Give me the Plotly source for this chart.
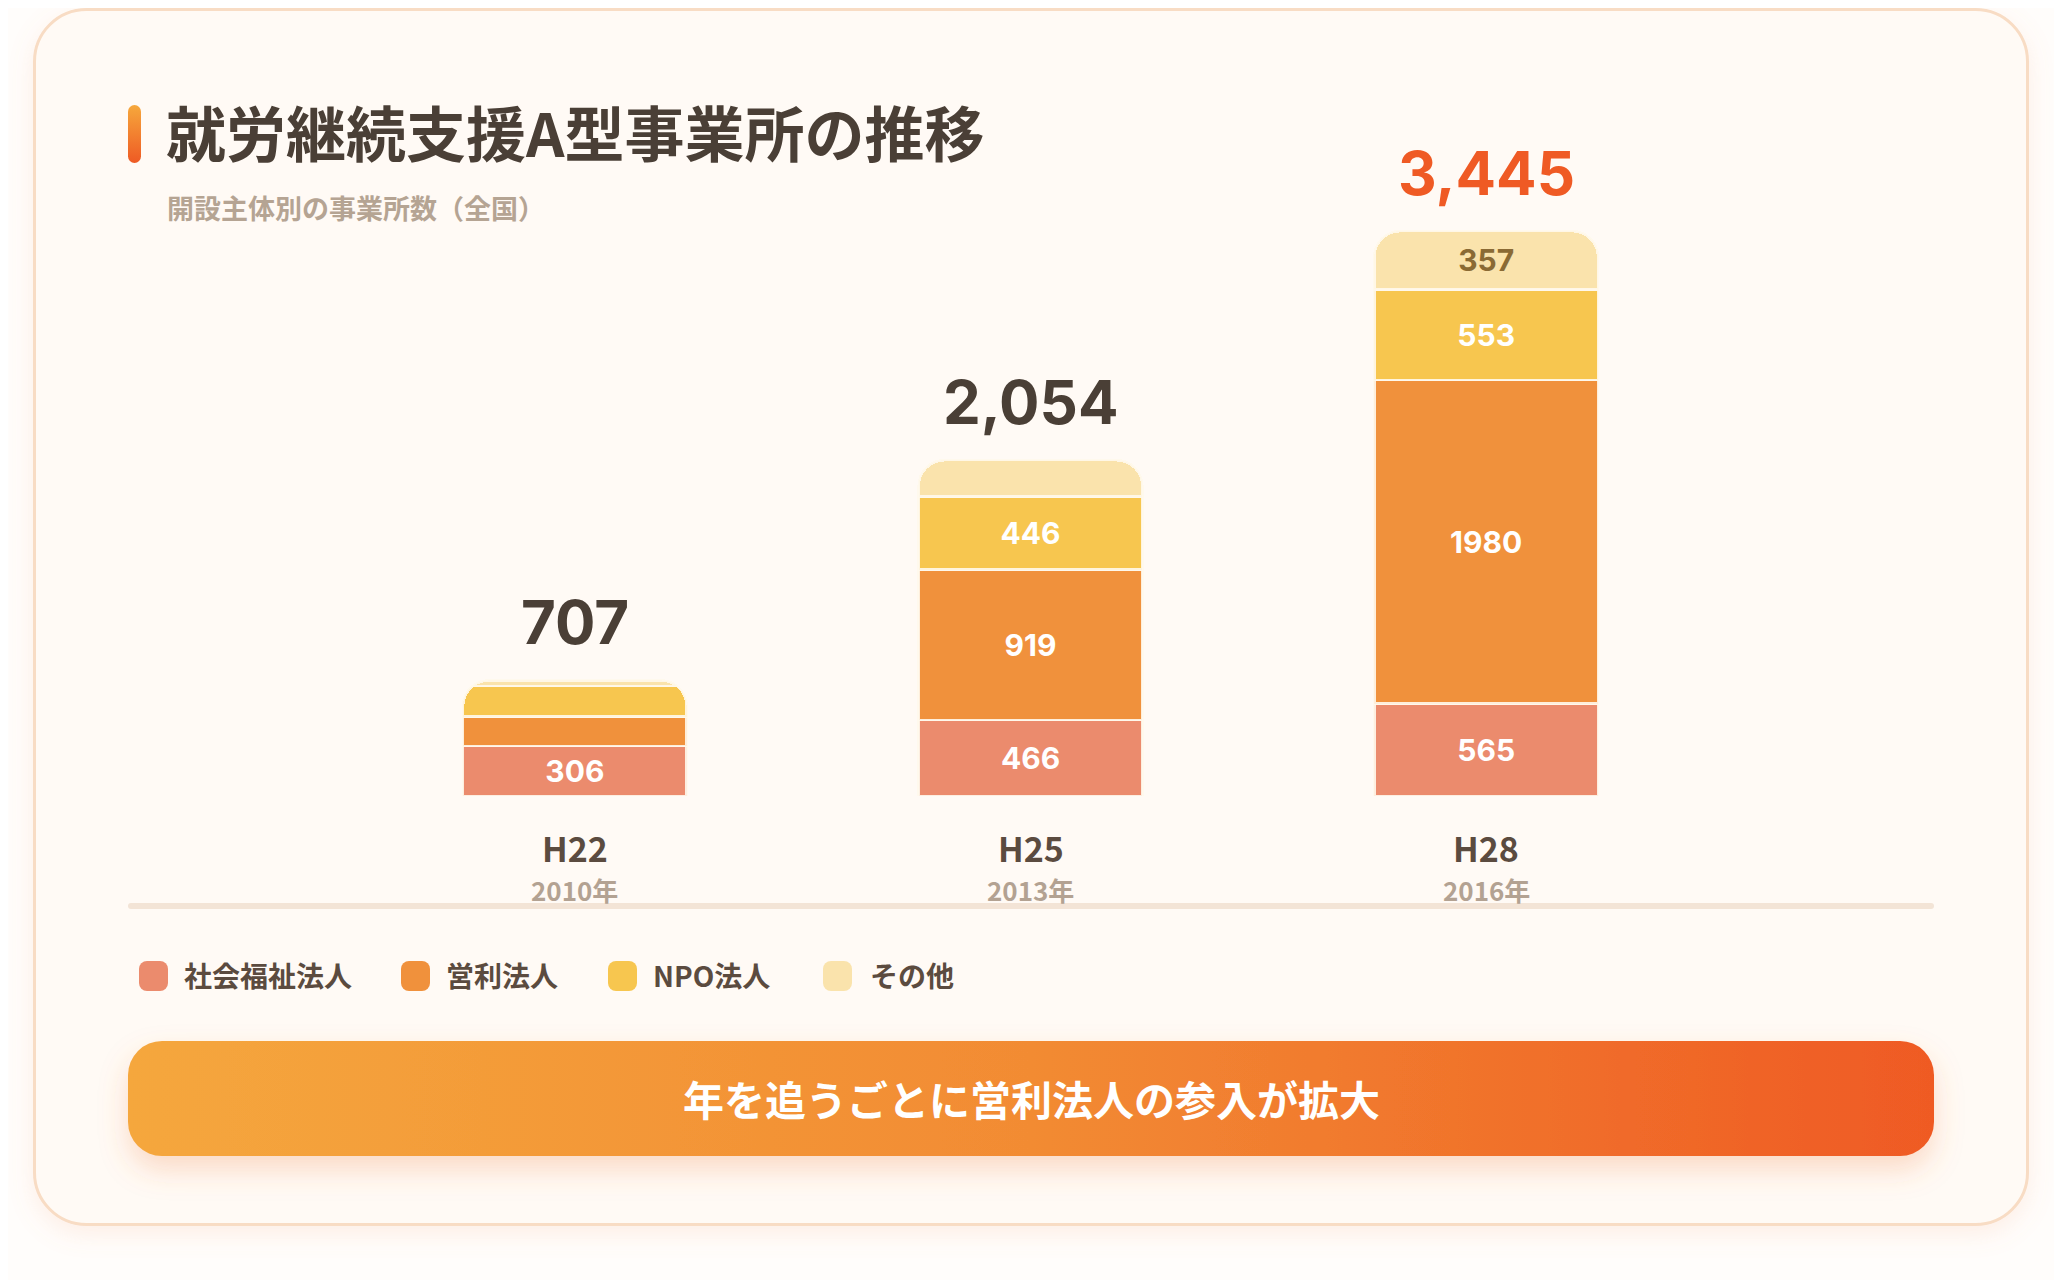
import base64
import plotly.graph_objects as go

# data
years = ["H22", "H25", "H28"]
year_ad = ["2010年", "2013年", "2016年"]
series = ["社会福祉法人", "営利法人", "NPO法人", "その他"]
shakai = [306, 466, 565]
eiri = [180, 919, 1980]
npo = [186, 446, 553]
sonota = [35, 223, 357]
totals = [707, 2054, 3445]
# H22 segments (except the first) and H25 "other" carry no printed value
show_label = [[True, True, True], [False, True, True], [False, True, True], [False, False, True]]

colors = ["#eb8b6d", "#f0913c", "#f7c64f", "#fae3ac"]
label_colors = ["#ffffff", "#ffffff", "#ffffff", "#8a6a34"]
total_colors = ["#4a3f36", "#4a3f36", "#ef5a24"]

JP = "Noto Sans CJK JP"
NUM = "Inter, Noto Sans CJK JP"
W, H = 2046, 1272


def px(x):
    return x / W


def py(y):
    return 1 - y / H


# background decoration: card, accent bar, baseline, banner, legend chips
legend_x = [131, 393, 600, 815]
legend_tx = [174, 436, 643, 860]
chips = "".join(
    f'<rect x="{x}" y="953" width="29" height="30" rx="8" fill="{c}"/>'
    for x, c in zip(legend_x, colors)
)
svg = f'''<svg xmlns="http://www.w3.org/2000/svg" width="{W}" height="{H}" viewBox="0 0 {W} {H}">
<defs>
<linearGradient id="acc" x1="0" y1="0" x2="0" y2="1"><stop offset="0" stop-color="#f6a83c"/><stop offset="1" stop-color="#ee5a24"/></linearGradient>
<linearGradient id="ban" x1="0" y1="0" x2="1" y2="0"><stop offset="0" stop-color="#f5a73d"/><stop offset="0.5" stop-color="#f28b33"/><stop offset="1" stop-color="#ef5a24"/></linearGradient>
<filter id="sh" x="-5%" y="-5%" width="110%" height="112%"><feDropShadow dx="0" dy="8" stdDeviation="12" flood-color="#f0a070" flood-opacity="0.16"/></filter>
<filter id="bsh" x="-5%" y="-40%" width="110%" height="220%"><feDropShadow dx="0" dy="14" stdDeviation="14" flood-color="#ef7a3c" flood-opacity="0.25"/></filter>
</defs>
<rect width="{W}" height="{H}" fill="#fffdfb"/>
<rect x="26.5" y="1.5" width="1993" height="1215" rx="52" fill="#fffaf5" stroke="#f8dcc4" stroke-width="3" filter="url(#sh)"/>
<rect x="120" y="97" width="13" height="58" rx="6.5" fill="url(#acc)"/>
<rect x="120" y="895" width="1806" height="6" rx="3" fill="#f3e4d6"/>
<rect x="120" y="1033" width="1806" height="115" rx="34" fill="url(#ban)" filter="url(#bsh)"/>
{chips}
</svg>'''
svg_uri = "data:image/svg+xml;base64," + base64.b64encode(svg.encode("utf-8")).decode("ascii")

fig = go.Figure()
for name, vals, col, tcol, show in zip(series, [shakai, eiri, npo, sonota], colors, label_colors, show_label):
    fig.add_trace(go.Bar(
        x=years, y=vals, name=name,
        marker=dict(color=col, line=dict(color="rgba(255,248,236,0.9)", width=2.5)),
        text=[str(v) if s else "" for v, s in zip(vals, show)],
        textposition="inside", insidetextanchor="middle", textangle=0,
        textfont=dict(family=NUM, size=30, color=tcol, weight=700),
        hoverinfo="skip", showlegend=False,
    ))

stack_top = [a + b + c + d for a, b, c, d in zip(shakai, eiri, npo, sonota)]

annotations = [
    dict(text="就労継続支援A型事業所の推移", x=px(156), y=py(122), xanchor="left", yanchor="middle",
         font=dict(family=JP, size=60, color="#4a3f36", weight=700)),
    dict(text="開設主体別の事業所数（全国）", x=px(157), y=py(200), xanchor="left", yanchor="middle",
         font=dict(family=JP, size=27, color="#b5a493", weight=700)),
    dict(text="年を追うごとに営利法人の参入が拡大", x=px(1023), y=py(1090), xanchor="center", yanchor="middle",
         font=dict(family=JP, size=41, color="#ffffff", weight=700)),
]
for yr, ad, top, tot, tc in zip(years, year_ad, stack_top, totals, total_colors):
    annotations.append(dict(text=f"{tot:,}", x=yr, y=top, xref="x", yref="y", yshift=58,
                            xanchor="center", yanchor="middle",
                            font=dict(family=NUM, size=60, color=tc, weight=700)))
    annotations.append(dict(text=yr, x=yr, y=py(839), xref="x", yref="paper",
                            xanchor="center", yanchor="middle",
                            font=dict(family=JP, size=34, color="#5b4b3f", weight=700)))
    annotations.append(dict(text=ad, x=yr, y=py(881), xref="x", yref="paper",
                            xanchor="center", yanchor="middle",
                            font=dict(family=JP, size=26, color="#b3a292", weight=700)))
for name, tx in zip(series, legend_tx):
    annotations.append(dict(text=name, x=px(tx), y=py(967), xanchor="left", yanchor="middle",
                            font=dict(family=JP, size=28, color="#5b4b3f", weight=700)))
for a in annotations:
    a.setdefault("xref", "paper")
    a.setdefault("yref", "paper")
    a["showarrow"] = False

fig.update_layout(
    width=W, height=H,
    margin=dict(l=0, r=0, t=0, b=0),
    paper_bgcolor="#fffdfb", plot_bgcolor="rgba(0,0,0,0)",
    barmode="stack", bargap=0.509, barcornerradius=26,
    xaxis=dict(domain=[px(339), px(1706)], range=[-0.5, 2.5], showticklabels=False,
               showgrid=False, zeroline=False, showline=False, fixedrange=True),
    yaxis=dict(domain=[py(788), py(134)], range=[0, 4000], visible=False, fixedrange=True),
    images=[dict(source=svg_uri, xref="paper", yref="paper", x=0, y=1, sizex=1, sizey=1,
                 xanchor="left", yanchor="top", sizing="stretch", layer="below")],
    annotations=annotations,
    uniformtext=dict(minsize=10, mode="show"),
)

fig.write_html("out.html", config={"displayModeBar": False})
